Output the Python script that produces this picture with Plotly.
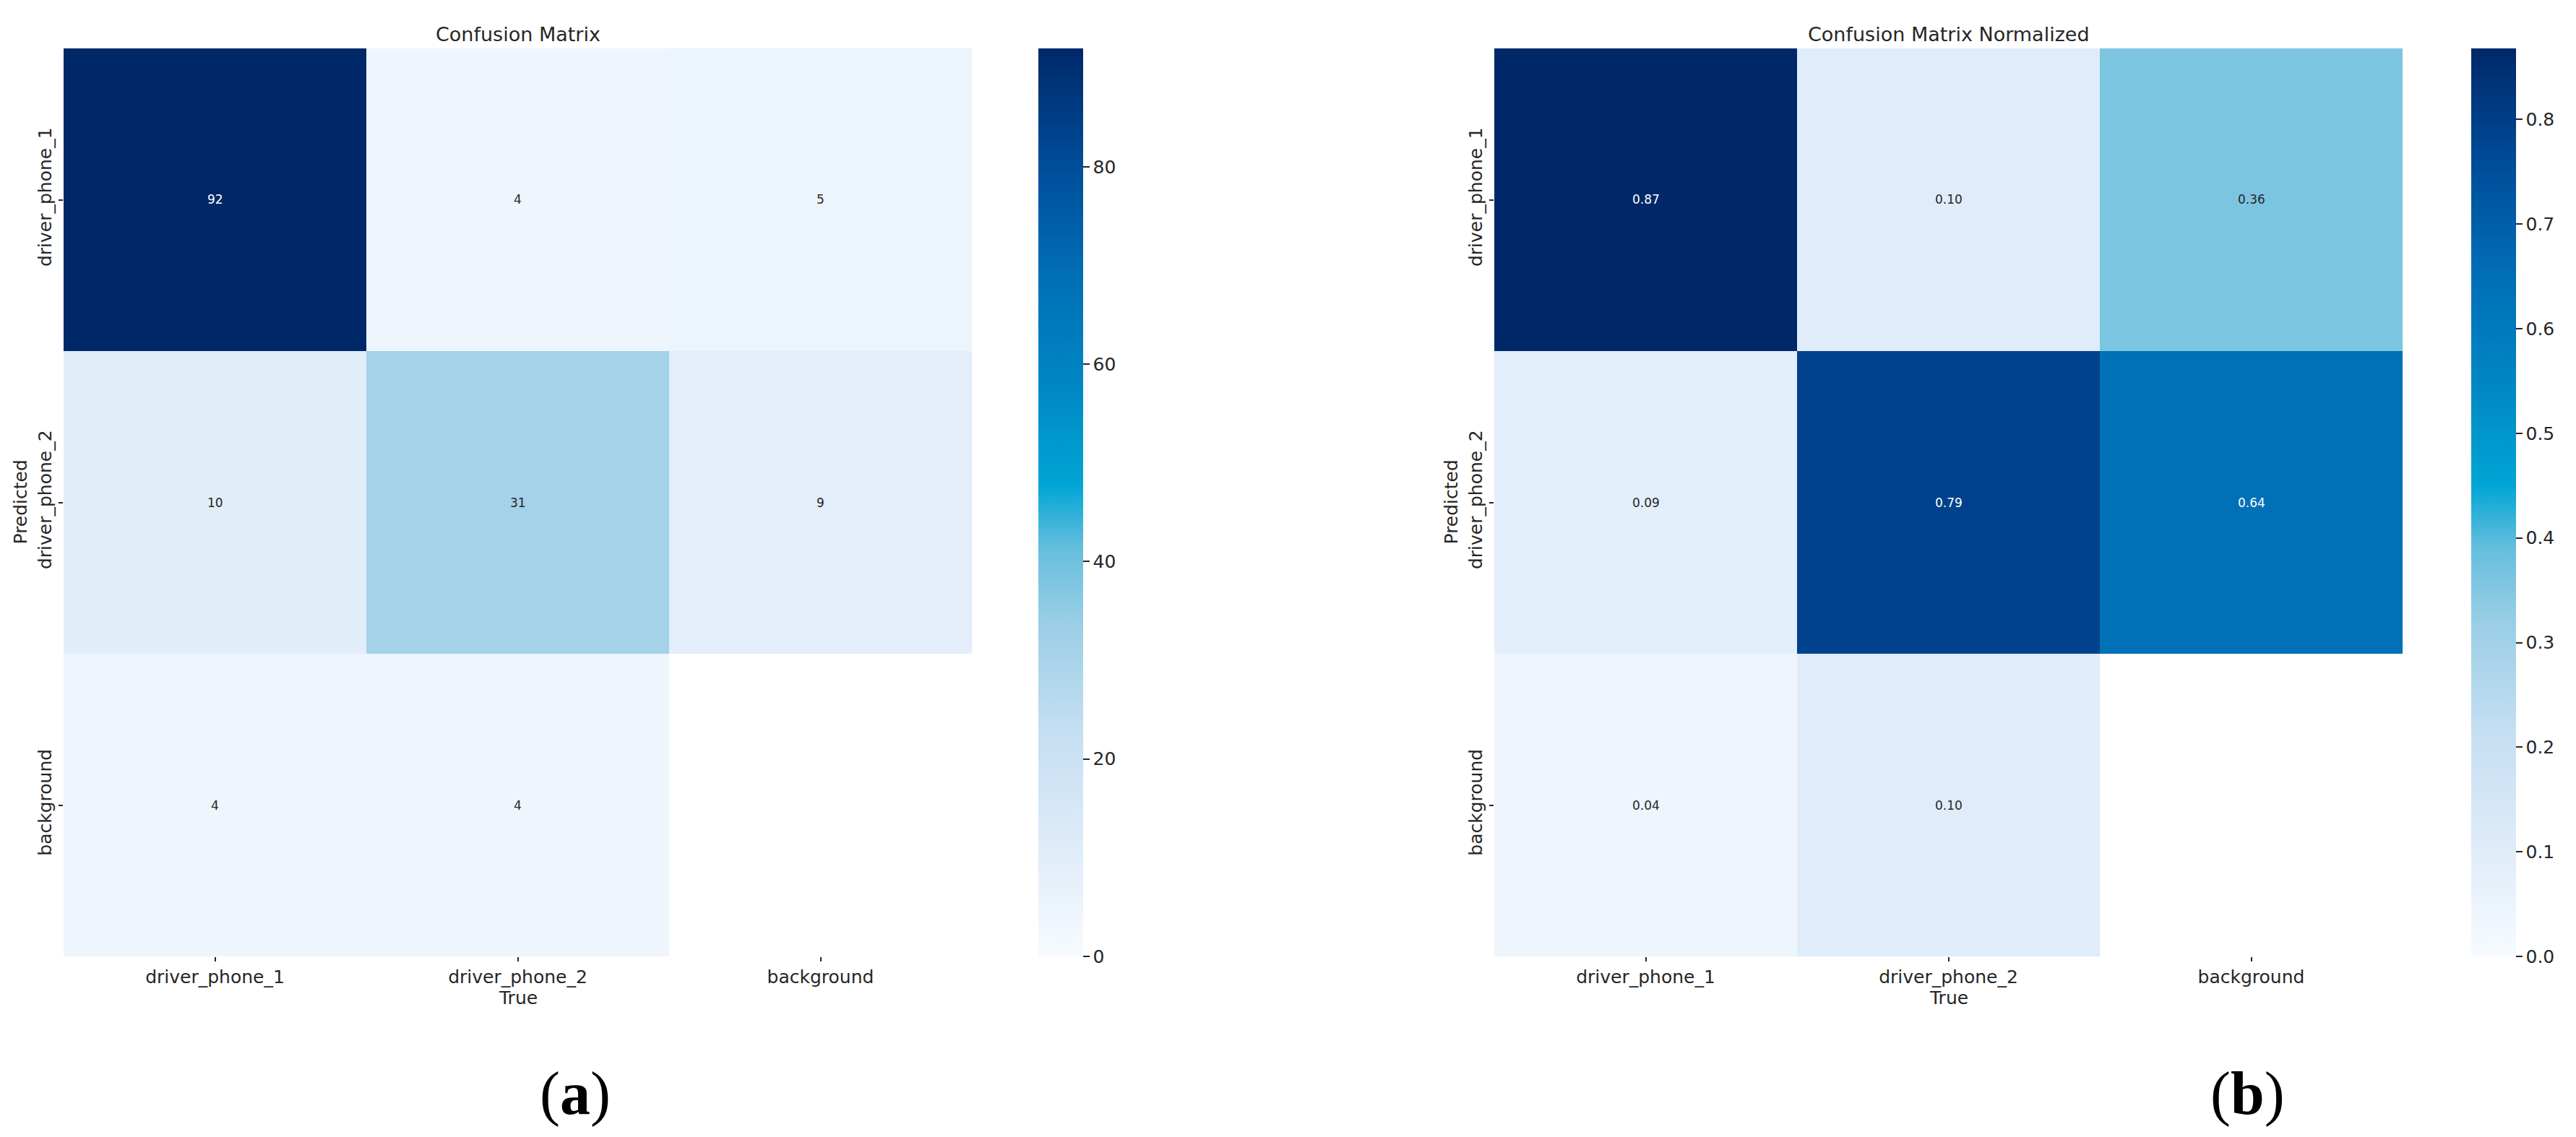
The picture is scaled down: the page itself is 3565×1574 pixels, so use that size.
import plotly.graph_objects as go

# ---------------- data ----------------
classes = ["driver_phone_1", "driver_phone_2", "background"]
# rows = Predicted, columns = True
counts = [[92, 4, 5],
          [10, 31, 9],
          [4, 4, None]]
normalized = [[0.87, 0.10, 0.36],
              [0.09, 0.79, 0.64],
              [0.04, 0.10, None]]
count_max = 92
norm_max = 0.868
count_ticks = [0, 20, 40, 60, 80]
norm_ticks = [0.0, 0.1, 0.2, 0.3, 0.4, 0.5, 0.6, 0.7, 0.8]
titles = ["Confusion Matrix", "Confusion Matrix Normalized"]
x_title = "True"
y_title = "Predicted"
panel_labels = ["(<b>a</b>)", "(<b>b</b>)"]

# ---------------- style / layout ----------------
W, H = 3565, 1574
TXT = "#262626"
FONT = "DejaVu Sans"

blues = [
    [0.0, "rgb(247,251,255)"],
    [0.125, "rgb(222,235,248)"],
    [0.25, "rgb(196,222,242)"],
    [0.375, "rgb(150,205,228)"],
    [0.45, "rgb(100,190,222)"],
    [0.52, "rgb(0,165,212)"],
    [0.625, "rgb(0,136,196)"],
    [0.75, "rgb(0,110,182)"],
    [0.875, "rgb(0,76,152)"],
    [1.0, "rgb(0,40,105)"],
]

def px_x(v):
    return v / W

def px_y(v):
    return 1 - v / H

heat_top, heat_bot = 67, 1324
panels = [
    dict(left=88, z=counts, zmax=count_max, ticks=count_ticks, fmt="{:d}",
         cb_left=1437, tickformat="d", label_x=796),
    dict(left=2068, z=normalized, zmax=norm_max, ticks=norm_ticks, fmt="{:.2f}",
         cb_left=3420, tickformat=".1f", label_x=3110),
]
side = heat_bot - heat_top

fig = go.Figure()
annotations = []
for i, p in enumerate(panels):
    xa = "x" if i == 0 else "x2"
    ya = "y" if i == 0 else "y2"
    fig.add_trace(go.Heatmap(
        z=p["z"], x=classes, y=classes, xaxis=xa, yaxis=ya,
        colorscale=blues, zmin=0, zmax=p["zmax"], hoverongaps=False,
        colorbar=dict(
            x=px_x(p["cb_left"]), xanchor="left", xref="paper",
            y=px_y((heat_top + heat_bot) / 2), yanchor="middle",
            len=side, lenmode="pixels", thickness=62, thicknessmode="pixels",
            outlinewidth=0, ticks="outside", ticklen=9, tickwidth=2,
            tickcolor=TXT, tickvals=p["ticks"], tickformat=p["tickformat"],
            tickfont=dict(family=FONT, size=25, color=TXT), ypad=0, xpad=0,
        ),
    ))
    # cell annotations
    for r, row in enumerate(p["z"]):
        for c, v in enumerate(row):
            if v is None:
                continue
            col = "white" if v / p["zmax"] > 0.6 else TXT
            annotations.append(dict(
                x=classes[c], y=classes[r], xref=xa, yref=ya,
                text=p["fmt"].format(v), showarrow=False,
                font=dict(family=FONT, size=17, color=col)))
    cx = p["left"] + side / 2
    annotations.append(dict(x=px_x(cx), y=px_y(47), xref="paper", yref="paper",
                            text=titles[i], showarrow=False, xanchor="center",
                            yanchor="middle",
                            font=dict(family=FONT, size=27, color=TXT)))
    annotations.append(dict(x=px_x(cx), y=px_y(1381), xref="paper", yref="paper",
                            text=x_title, showarrow=False, xanchor="center",
                            yanchor="middle",
                            font=dict(family=FONT, size=25, color=TXT)))
    annotations.append(dict(x=px_x(p["left"] - 60), y=px_y((heat_top + heat_bot) / 2),
                            xref="paper", yref="paper", textangle=-90,
                            text=y_title, showarrow=False, xanchor="center",
                            yanchor="middle",
                            font=dict(family=FONT, size=25, color=TXT)))
    annotations.append(dict(x=px_x(p["label_x"]), y=px_y(1514), xref="paper",
                            yref="paper", text=panel_labels[i], showarrow=False,
                            xanchor="center", yanchor="middle",
                            font=dict(family="Liberation Serif", size=84,
                                      color="black")))

axis_common = dict(showgrid=False, zeroline=False, showline=False,
                   ticks="outside", ticklen=6, tickwidth=2, tickcolor=TXT,
                   tickfont=dict(family=FONT, size=25, color=TXT))
lay = dict(width=W, height=H, margin=dict(l=0, r=0, t=0, b=0),
           paper_bgcolor="white", plot_bgcolor="white",
           annotations=annotations, showlegend=False)
for i, p in enumerate(panels):
    sx = "" if i == 0 else "2"
    lay["xaxis" + sx] = dict(axis_common, domain=[px_x(p["left"]), px_x(p["left"] + side)],
                             anchor="y" + sx, type="category",
                             categoryorder="array", categoryarray=classes)
    lay["yaxis" + sx] = dict(axis_common, domain=[px_y(heat_bot), px_y(heat_top)],
                             anchor="x" + sx, type="category", tickangle=-90,
                             categoryorder="array", categoryarray=classes,
                             autorange="reversed")
fig.update_layout(**lay)

fig.write_html("out.html", config={"displayModeBar": False},
               post_script="document.body.style.margin='0';document.body.style.overflow='hidden';")
